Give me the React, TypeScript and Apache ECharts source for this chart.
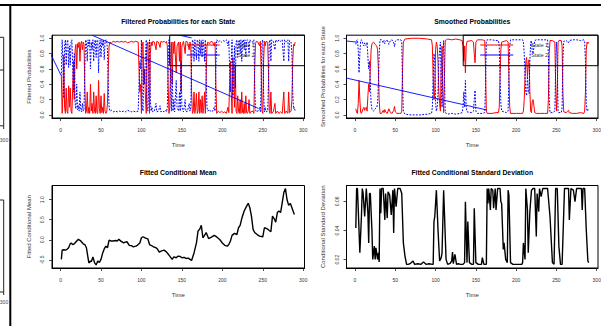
import React, { useEffect, useRef } from "react";
import * as echarts from "echarts";

// ---------- tick labels / axis ranges ----------
const timeTicks = [0, 50, 100, 150, 200, 250, 300];
const probTicks = [0, 0.2, 0.4, 0.6, 0.8, 1.0];
const meanTicks = [-0.5, 0, 0.5, 1.0];
const sdTicks = [0.02, 0.04, 0.06];
const timeRange = [-10.56, 301.56];
const probRange = [-0.04, 1.04];
const meanRange = [-0.706, 1.356];
const sdRange = [0.0143, 0.0709];
const stateNames = ["State 1", "State 2"];

// ---------- filtered probabilities ----------
const filtT = [
  1, 2, 3, 4, 5, 6, 7, 8, 9, 10,
  11, 12, 13, 14, 15, 16, 17, 18, 19, 20,
  21, 22, 23, 24, 25, 26, 27, 28, 29, 30,
  31, 32, 33, 34, 35, 36, 37, 38, 39, 40,
  41, 42, 43, 44, 45, 46, 47, 48, 49, 50,
  51, 52, 53, 54, 55, 56, 57, 58, 59, 60,
  61, 63, 65, 68, 70, 73, 75, 78, 80, 83,
  85, 88, 90, 93, 96, 97, 98, 99, 100, 101,
  102, 103, 104, 105, 106, 107, 108, 109, 110, 111,
  112, 113, 114, 116, 118, 119, 121, 123, 124, 126,
  128, 130, 131, 132, 133, 134, 135, 136, 137, 138,
  139, 140, 141, 143, 144, 146, 147, 148, 149, 150,
  152, 154, 155, 157, 159, 160, 161, 162, 163, 164,
  165, 166, 167, 168, 169, 170, 171, 172, 173, 174,
  175, 176, 177, 178, 179, 180, 181, 182, 184, 186,
  188, 190, 191, 192, 193, 195, 197, 199, 201, 203,
  205, 207, 208, 209, 210, 211, 212, 213, 214, 215,
  216, 217, 218, 219, 220, 221, 222, 223, 224, 225,
  226, 227, 228, 229, 230, 231, 232, 233, 234, 235,
  238, 239, 240, 241, 242, 244, 246, 247, 248, 249,
  250, 251, 252, 253, 254, 256, 257, 258, 259, 260,
  261, 263, 265, 266, 268, 270, 272, 274, 276, 277,
  279, 281, 282, 283, 285, 286, 287, 288, 289, 290,
];
const filtState1 = [
  .5, .02, .3, .78, .1, .02, .35, .05, .02, .38,
  .1, .35, .05, .02, .35, .7, .2, .85, .92, .6,
  .93, .88, .95, .7, .93, .96, .85, .95, .92, .4,
  .02, .05, .3, .02, .1, .02, .4, .05, .15, .02,
  .3, .05, .02, .25, .03, .02, .45, .08, .02, .25,
  .03, .1, .02, .28, .05, .02, .03, .15, .6, .9,
  .95, .94, .96, .95, .96, .95, .96, .95, .96, .94,
  .95, .96, .95, .96, .95, .6, .3, .4, .02, .9,
  .95, .4, .6, .2, .02, .9, .95, .6, .02, .8,
  .95, .9, .96, .95, .85, .96, .95, .88, .96, .95,
  .96, .94, .96, .9, .4, .02, .1, .6, .95, .4,
  .95, .8, .96, .55, .9, .95, .7, .95, .3, .9,
  .96, .8, .96, .95, .85, .95, .9, .3, .02, .05,
  .3, .02, .1, .28, .02, .05, .3, .02, .2, .03,
  .25, .02, .1, .3, .02, .5, .9, .95, .93, .96,
  .95, .9, .95, .4, .02, .05, .03, .05, .03, .04,
  .02, .1, .03, .4, .7, .3, .02, .75, .6, .1,
  .65, .05, .02, .25, .05, .02, .2, .02, .3, .03,
  .02, .15, .02, .25, .03, .02, .05, .2, .02, .04,
  .05, .02, .6, .93, .96, .95, .9, .96, .6, .05,
  .02, .7, .96, .9, .96, .95, .6, .05, .02, .3,
  .02, .04, .15, .02, .05, .02, .04, .02, .3, .02,
  .05, .02, .3, .03, .05, .2, .7, .92, .9, .95,
];
const filtState2 = [
  .5, .98, .7, .22, .9, .98, .65, .95, .98, .62,
  .9, .65, .95, .98, .65, .3, .8, .15, .08, .4,
  .07, .12, .05, .3, .07, .04, .15, .05, .08, .6,
  .98, .95, .7, .98, .9, .98, .6, .95, .85, .98,
  .7, .95, .98, .75, .97, .98, .55, .92, .98, .75,
  .97, .9, .98, .72, .95, .98, .97, .85, .4, .1,
  .05, .06, .04, .05, .04, .05, .04, .05, .04, .06,
  .05, .04, .05, .04, .05, .4, .7, .6, .98, .1,
  .05, .6, .4, .8, .98, .1, .05, .4, .98, .2,
  .05, .1, .04, .05, .15, .04, .05, .12, .04, .05,
  .04, .06, .04, .1, .6, .98, .9, .4, .05, .6,
  .05, .2, .04, .45, .1, .05, .3, .05, .7, .1,
  .04, .2, .04, .05, .15, .05, .1, .7, .98, .95,
  .7, .98, .9, .72, .98, .95, .7, .98, .8, .97,
  .75, .98, .9, .7, .98, .5, .1, .05, .07, .04,
  .05, .1, .05, .6, .98, .95, .97, .95, .97, .96,
  .98, .9, .97, .6, .3, .7, .98, .25, .4, .9,
  .35, .95, .98, .75, .95, .98, .8, .98, .7, .97,
  .98, .85, .98, .75, .97, .98, .95, .8, .98, .96,
  .95, .98, .4, .07, .04, .05, .1, .04, .4, .95,
  .98, .3, .04, .1, .04, .05, .4, .95, .98, .7,
  .98, .96, .85, .98, .95, .98, .96, .98, .7, .98,
  .95, .98, .7, .97, .95, .8, .3, .08, .1, .05,
];
// stray straight blue strokes visible in the filtered panel
const filtStrokeA = [[-12, 0.79], [0.5, 0.52]];
const filtStrokeB = [[39, 1.04], [244, 0.087]];
const filtStrokeC = [[147, 1.04], [162, 1.005]];

// ---------- smoothed probabilities ----------
const smoothT = [
  1, 2, 3, 4, 5, 6, 7, 8, 10, 11,
  12, 13, 14, 15, 16, 17, 18, 19, 20, 21,
  23, 25, 27, 28, 29, 30, 31, 33, 35, 36,
  37, 38, 40, 42, 44, 46, 48, 49, 50, 52,
  55, 57, 58, 59, 60, 62, 70, 80, 90, 95,
  96, 97, 98, 99, 100, 101, 102, 103, 104, 105,
  106, 107, 108, 109, 110, 111, 112, 115, 120, 125,
  130, 133, 134, 135, 136, 137, 138, 139, 145, 147,
  148, 149, 150, 152, 158, 161, 162, 163, 164, 170,
  175, 178, 179, 180, 181, 182, 185, 188, 190, 191,
  192, 193, 200, 205, 208, 209, 210, 211, 212, 213,
  214, 215, 216, 217, 218, 219, 220, 221, 222, 223,
  225, 230, 235, 239, 240, 241, 242, 245, 248, 249,
  250, 251, 252, 253, 256, 257, 258, 259, 262, 264,
  265, 266, 270, 275, 280, 284, 285, 286, 287, 288,
  289, 290,
];
const smoothState1 = [
  .08, .03, .02, .15, .45, .2, .03, .02, .08, .1,
  .06, .09, .1, .05, .25, .4, .3, .6, .85, .93,
  .95, .92, .9, .85, .6, .2, .02, .02, .06, .03,
  .07, .04, .02, .08, .03, .02, .06, .11, .04, .02,
  .02, .02, .05, .6, .95, .99, 1, 1, .99, .98,
  .9, .5, .2, .3, .85, .95, .9, .7, .3, .15,
  .05, .6, .9, .3, .03, .5, .97, .99, .98, .99,
  .98, .97, .9, .7, .9, .55, .9, .96, .97, .95,
  .8, .68, .95, .98, .98, .97, .6, .05, .02, .02,
  .03, .03, .1, .5, .85, .95, .96, .97, .95, .5,
  .1, .02, .02, .02, .02, .05, .2, .5, .7, .75,
  .5, .68, .72, .3, .05, .03, .18, .2, .12, .03,
  .02, .02, .02, .02, .2, .8, .97, .97, .95, .4,
  .05, .3, .95, .97, .97, .9, .3, .04, .03, .05,
  .06, .03, .02, .02, .03, .02, .05, .3, .85, .95,
  .93, .95,
];
const smoothState2 = [
  .92, .97, .98, .85, .55, .8, .97, .98, .92, .9,
  .94, .91, .9, .95, .75, .6, .7, .4, .15, .07,
  .05, .08, .1, .15, .4, .8, .98, .98, .94, .97,
  .93, .96, .98, .92, .97, .98, .94, .89, .96, .98,
  .98, .98, .95, .4, .05, .01, 0, 0, .01, .02,
  .1, .5, .8, .7, .15, .05, .1, .3, .7, .85,
  .95, .4, .1, .7, .97, .5, .03, .01, .02, .01,
  .02, .03, .1, .3, .1, .45, .1, .04, .03, .05,
  .2, .32, .05, .02, .02, .03, .4, .95, .98, .98,
  .97, .97, .9, .5, .15, .05, .04, .03, .05, .5,
  .9, .98, .98, .98, .98, .95, .8, .5, .3, .25,
  .5, .32, .28, .7, .95, .97, .82, .8, .88, .97,
  .98, .98, .98, .98, .8, .2, .03, .03, .05, .6,
  .95, .7, .05, .03, .03, .1, .7, .96, .97, .95,
  .94, .97, .98, .98, .97, .98, .95, .7, .15, .05,
  .07, .05,
];
const smoothStrokeA = [[-12, 0.966], [2, 0.95]];
const smoothStrokeB = [[-12, 0.484], [163.4, 0.065]];

// ---------- fitted conditional mean ----------
const meanT = [
  1, 2, 4, 6, 8, 10, 12, 13, 15, 17,
  20, 22, 25, 28, 30, 32, 33, 35, 37, 38,
  40, 42, 44, 46, 48, 50, 52, 54, 56, 58,
  60, 62, 65, 68, 70, 72, 75, 78, 80, 82,
  85, 88, 90, 93, 95, 98, 100, 102, 105, 108,
  110, 113, 115, 118, 120, 122, 125, 128, 130, 132,
  135, 138, 140, 143, 145, 148, 150, 153, 155, 158,
  160, 162, 165, 168, 170, 172, 174, 176, 178, 180,
  183, 186, 190, 193, 197, 200, 203, 206, 208, 210,
  212, 215, 218, 220, 222, 224, 227, 230, 232, 234,
  236, 238, 240, 243, 246, 250, 252, 255, 258, 260,
  262, 264, 266, 268, 270, 272, 274, 276, 278, 280,
  282, 284, 286, 288, 289,
];
const meanV = [
  -.49, -.26, -.25, -.26, -.24, -.2, -.1, -.08, -.12, -.1,
  -.03, .01, -.03, -.1, -.12, -.2, -.33, -.58, -.53, -.55,
  -.43, -.57, -.63, -.53, -.57, -.49, -.34, -.23, -.16, -.2,
  -.01, -.03, -.03, -.02, -.03, .01, -.04, -.08, -.06, -.05,
  -.14, -.15, -.18, -.16, -.14, -.08, .05, .075, .04, .02,
  -.12, -.15, -.18, -.2, -.24, -.31, -.28, -.26, -.29, -.33,
  -.41, -.49, -.43, -.45, -.41, -.42, -.45, -.44, -.47, -.46,
  -.49, -.52, -.33, -.08, .22, .26, .36, .05, .11, .18,
  .03, .06, .11, .07, 0, -.08, -.14, -.16, -.12, -.03,
  .11, .16, .13, .3, .36, .53, .72, .84, .91, .8,
  .59, .26, .18, .13, .09, .075, .3, .28, .23, .2,
  .59, .53, .44, .68, .72, .68, .92, 1.18, 1.28, 1.0,
  .86, .91, .8, .69, .63,
];

// ---------- fitted conditional standard deviation ----------
const sdT = [
  1, 2, 3, 4, 6, 8, 9, 10, 12, 14,
  16, 17, 18, 19, 21, 22, 24, 25, 26, 28,
  29, 30, 31, 32, 33, 35, 37, 38, 40, 41,
  43, 45, 47, 48, 49, 51, 53, 56, 58, 60,
  62, 64, 66, 69, 72, 74, 78, 82, 85, 88,
  92, 96, 97, 98, 99, 101, 103, 105, 107, 108,
  110, 111, 113, 115, 118, 120, 121, 122, 124, 126,
  128, 131, 134, 136, 137, 139, 140, 142, 145, 147,
  148, 150, 153, 157, 158, 160, 163, 164, 165, 166,
  168, 169, 171, 172, 174, 175, 177, 180, 181, 182,
  184, 185, 187, 189, 190, 191, 193, 196, 200, 204,
  207, 208, 209, 211, 212, 214, 215, 217, 219, 221,
  223, 225, 226, 228, 229, 231, 233, 239, 242, 245,
  247, 249, 251, 253, 255, 257, 260, 263, 265, 266,
  268, 271, 273, 275, 281, 282, 283, 285, 287, 289,
  290,
];
const sdV = [
  .0417, .0688, .0688, .055, .0247, .05, .0688, .066, .0496, .0688,
  .0519, .0315, .0654, .0654, .04, .0202, .0293, .0202, .0281, .0202,
  .0247, .0184, .0688, .0519, .0688, .0688, .0473, .0654, .0485, .0666,
  .0643, .0507, .0677, .0383, .0688, .0564, .0688, .0688, .0654, .0315,
  .0225, .0168, .0168, .0175, .0191, .0168, .0172, .0168, .0185, .0168,
  .0172, .0168, .0168, .0462, .0496, .0677, .0406, .0191, .0214, .0247,
  .0677, .0519, .0202, .0168, .0175, .0191, .0252, .0173, .0236, .0168,
  .0172, .0168, .0168, .018, .0598, .018, .0462, .018, .0168, .0168,
  .0553, .018, .0168, .0168, .0214, .0168, .0168, .0688, .0586, .0688,
  .0541, .0688, .0677, .0553, .0688, .0541, .0688, .0688, .0598, .0586,
  .027, .0315, .0202, .018, .0677, .0643, .018, .0168, .0168, .0168,
  .0168, .018, .0315, .0202, .0688, .0541, .0247, .053, .0677, .0688,
  .0688, .036, .0654, .053, .0688, .0632, .0688, .0688, .0496, .018,
  .0168, .0688, .0688, .0293, .0168, .0168, .0688, .0688, .0688, .0473,
  .0688, .0677, .0598, .0688, .0688, .0541, .0688, .0688, .0406, .0191,
  .018,
];

const pair = (t: number[], v: number[]) => t.map((x, i) => [x, v[i]]);

const FONT = "'Liberation Sans', Arial, Helvetica, sans-serif";
const RED = "#ff0000";
const BLUE = "#0000ff";

function makeOption() {
  const grids = [
    { left: 52, top: 35.2, width: 252.5, height: 82.8 },
    { left: 346.5, top: 35.2, width: 251.5, height: 82.8 },
    { left: 52, top: 185.5, width: 252.5, height: 82.5 },
    { left: 346.5, top: 185.5, width: 251.5, height: 82.5 },
  ].map((g) => ({
    ...g,
    show: true,
    borderColor: "#000",
    borderWidth: 1,
    backgroundColor: "transparent",
    containLabel: false,
    outerBoundsMode: "none",
  }));

  const tickLabelStyle = { fontSize: 5, color: "#333", fontFamily: FONT };
  const nameStyle = { fontSize: 6, color: "#333", fontFamily: FONT };

  const xAxis = [0, 1, 2, 3].map((i) => ({
    type: "value",
    gridIndex: i,
    min: timeRange[0],
    max: timeRange[1],
    splitNumber: 6,
    axisLine: { show: true, onZero: false, lineStyle: { color: "#000", width: 1 } },
    axisTick: { show: true, inside: false, length: 3, lineStyle: { color: "#222", width: 0.8 }, customValues: timeTicks },
    axisLabel: { show: true, margin: 9.3, ...tickLabelStyle, customValues: timeTicks, formatter: (v: number) => String(v) },
    splitLine: { show: false },
    name: "Time",
    nameLocation: "middle",
    nameGap: 24,
    nameTextStyle: nameStyle,
  }));

  const yDefs = [
    { range: probRange, ticks: probTicks, dec: 1, name: "Filtered Probabilities", gap: 20.3 },
    { range: probRange, ticks: probTicks, dec: 1, name: "Smoothed Probabilities for each State", gap: 21 },
    { range: meanRange, ticks: meanTicks, dec: 1, name: "Fitted Conditional Mean", gap: 20.3 },
    { range: sdRange, ticks: sdTicks, dec: 2, name: "Conditional Standard Deviation", gap: 21 },
  ];
  const yAxis = yDefs.map((d, i) => ({
    type: "value",
    gridIndex: i,
    min: d.range[0],
    max: d.range[1],
    axisLine: { show: true, onZero: false, lineStyle: { color: "#000", width: 1 } },
    axisTick: { show: true, inside: false, length: 3, lineStyle: { color: "#222", width: 0.8 }, customValues: d.ticks },
    axisLabel: {
      show: true,
      margin: 7.5,
      rotate: 90,
      ...tickLabelStyle,
      customValues: d.ticks,
      formatter: (v: number) => v.toFixed(d.dec),
    },
    splitLine: { show: false },
    name: d.name,
    nameLocation: "middle",
    nameRotate: 90,
    nameGap: d.gap,
    nameTextStyle: nameStyle,
  }));

  const base = { type: "line", symbol: "none", showSymbol: false, clip: true, silent: true, animation: false };
  const redLine = { color: RED, width: 1 };
  const blueDot = { color: BLUE, width: 1, type: [1.8, 1.4] };
  const blueSolid = { color: BLUE, width: 0.9 };
  const blackLine = { color: "#000", width: 1.4 };

  const series: any[] = [
    { ...base, name: "filt1", xAxisIndex: 0, yAxisIndex: 0, data: pair(filtT, filtState1), lineStyle: redLine, itemStyle: { color: RED } },
    { ...base, name: "filt2", xAxisIndex: 0, yAxisIndex: 0, data: pair(filtT, filtState2), lineStyle: blueDot, itemStyle: { color: BLUE } },
    { ...base, name: "filtA", xAxisIndex: 0, yAxisIndex: 0, data: filtStrokeA, lineStyle: blueSolid },
    { ...base, name: "filtB", xAxisIndex: 0, yAxisIndex: 0, data: filtStrokeB, lineStyle: blueSolid },
    { ...base, name: "filtC", xAxisIndex: 0, yAxisIndex: 0, data: filtStrokeC, lineStyle: blueSolid },
    { ...base, name: "smooth1", xAxisIndex: 1, yAxisIndex: 1, data: pair(smoothT, smoothState1), lineStyle: redLine, itemStyle: { color: RED } },
    { ...base, name: "smooth2", xAxisIndex: 1, yAxisIndex: 1, data: pair(smoothT, smoothState2), lineStyle: blueDot, itemStyle: { color: BLUE } },
    { ...base, name: "smoothA", xAxisIndex: 1, yAxisIndex: 1, data: smoothStrokeA, lineStyle: blueSolid },
    { ...base, name: "smoothB", xAxisIndex: 1, yAxisIndex: 1, data: smoothStrokeB, lineStyle: blueSolid },
    { ...base, name: "mean", xAxisIndex: 2, yAxisIndex: 2, data: pair(meanT, meanV), lineStyle: blackLine },
    { ...base, name: "sd", xAxisIndex: 3, yAxisIndex: 3, data: pair(sdT, sdV), lineStyle: blackLine },
    // legend-only entries
    { ...base, name: stateNames[0], xAxisIndex: 0, yAxisIndex: 0, data: [], lineStyle: redLine, itemStyle: { color: RED } },
    { ...base, name: stateNames[1], xAxisIndex: 0, yAxisIndex: 0, data: [], lineStyle: { color: BLUE, width: 1 }, itemStyle: { color: BLUE } },
  ];

  const legendBase = {
    show: true,
    data: stateNames,
    orient: "vertical",
    top: 35.2,
    icon: "rect",
    itemWidth: 33,
    itemHeight: 1,
    itemGap: 3,
    padding: [6.3, 50, 7.2, 17],
    borderColor: "#000",
    borderWidth: 1,
    backgroundColor: "transparent",
    selectedMode: false,
    textStyle: { fontSize: 5.3, lineHeight: 7, color: "#333", fontFamily: FONT, padding: [0, 0, 0, 13] },
  };
  const legend = [
    { ...legendBase, right: 601 - 304.5 },
    { ...legendBase, right: 601 - 598 },
  ];

  const titleStyle = (text: string, x: number, y: number) => ({
    type: "text",
    x,
    y,
    silent: true,
    style: { text, fontSize: 6.8, fontWeight: "bold", fontFamily: FONT, fill: "#000", align: "center", verticalAlign: "middle" },
  });
  const ln = (x1: number, y1: number, x2: number, y2: number, w = 1, c = "#222") => ({
    type: "line",
    silent: true,
    shape: { x1, y1, x2, y2 },
    style: { stroke: c, lineWidth: w },
  });
  const small = (text: string, x: number, y: number) => ({
    type: "text",
    x,
    y,
    silent: true,
    style: { text, fontSize: 5, fontFamily: FONT, fill: "#444", align: "center", verticalAlign: "middle" },
  });

  const graphic = [
    titleStyle("Filtered Probabilities for each State", 178.25, 21.7),
    titleStyle("Smoothed Probabilities", 472.25, 21.7),
    titleStyle("Fitted Conditional Mean", 178.25, 172),
    titleStyle("Fitted Conditional Standard Deviation", 472.25, 172),
    // page frame
    { type: "rect", silent: true, shape: { x: 0, y: 4, width: 601, height: 2 }, style: { fill: "#000" } },
    { type: "rect", silent: true, shape: { x: 9.3, y: 4, width: 2, height: 322 }, style: { fill: "#000" } },
    // neighbouring cut-off panels at the left edge
    ln(3.7, 37.3, 3.7, 125.8),
    ln(0, 37.3, 3.7, 37.3),
    ln(0, 70, 3.7, 70),
    ln(0, 125.8, 3.7, 125.8),
    ln(3.7, 125.8, 3.7, 129),
    small("300", 4, 140),
    ln(3.7, 200, 3.7, 292),
    ln(0, 200, 3.7, 200),
    ln(0, 292, 3.7, 292),
    ln(3.7, 292, 3.7, 295),
    small("300", 4, 302),
  ];

  return {
    animation: false,
    backgroundColor: "#fff",
    grid: grids,
    xAxis,
    yAxis,
    series,
    legend,
    graphic,
  };
}

export default function App() {
  const ref = useRef<HTMLDivElement>(null);
  useEffect(() => {
    if (!ref.current) return;
    const chart = echarts.init(ref.current, null, { renderer: "svg" });
    chart.setOption(makeOption() as any);
    return () => chart.dispose();
  }, []);
  return (
    <div
      ref={ref}
      style={{ position: "fixed", left: 0, top: 0, width: 601, height: 326, background: "#fff" }}
    />
  );
}
